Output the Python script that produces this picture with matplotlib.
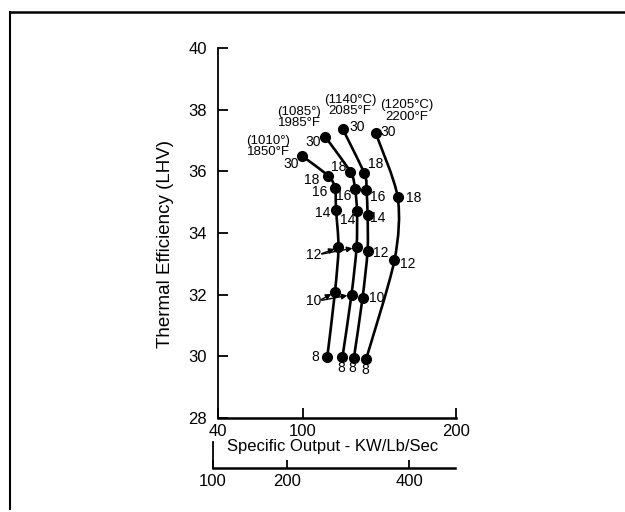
import numpy as np
import matplotlib
matplotlib.use('Agg')
import matplotlib.pyplot as plt
from matplotlib.path import Path
from matplotlib.patches import PathPatch
from matplotlib.lines import Line2D

plt.rcParams['font.family'] = ['Liberation Sans', 'DejaVu Sans']

# specific output (KW/Lb/Sec) and thermal efficiency, one list per firing temperature
pr_1850 = [30, 18, 16, 14, 12, 10, 8]
x_1850 = [99.1, 116.3, 120.9, 121.6, 123.2, 120.9, 115.9]
y_1850 = [36.51, 35.86, 35.46, 34.75, 33.53, 32.09, 29.99]

pr_1985 = [30, 18, 16, 14, 12, 10, 8]
x_1985 = [114.7, 131.0, 134.0, 135.3, 135.0, 131.7, 125.8]
y_1985 = [37.11, 35.98, 35.44, 34.71, 33.53, 32.00, 29.98]

pr_2085 = [30, 18, 16, 14, 12, 10, 8]
x_2085 = [126.1, 140.1, 141.5, 142.2, 142.2, 138.9, 133.3]
y_2085 = [37.36, 35.93, 35.39, 34.60, 33.42, 31.89, 29.96]

pr_2200 = [30, 18, 12, 8]
x_2200 = [147.5, 161.9, 159.8, 141.2]
y_2200 = [37.24, 35.16, 33.12, 29.90]

y_ticks = [28, 30, 32, 34, 36, 38, 40]
x_ticks = [40, 100, 200]
kg_ticks = [100, 200, 400]


# the scanned axis is not evenly spaced, so map it piece by piece
def fwd_main(x):
    x = np.asarray(x, dtype=float)
    return np.where(x < 100, (x - 40) * 85 / 60, 85 + (x - 100) * 153 / 100)


def inv_main(p):
    p = np.asarray(p, dtype=float)
    return np.where(p < 85, 40 + p * 60 / 85, 100 + (p - 85) * 100 / 153)


def fwd_kg(x):
    x = np.asarray(x, dtype=float)
    return np.where(x < 200, (x - 100) * 74 / 100, 74 + (x - 200) * 122 / 200)


def inv_kg(p):
    p = np.asarray(p, dtype=float)
    return np.where(p < 74, 100 + p * 100 / 74, 200 + (p - 74) * 200 / 122)


def smooth_path(xs, ys, k=0.14):
    # catmull-rom through the points, written as cubic bezier segments
    pts = np.column_stack([xs, ys])
    n = len(pts)
    verts = [pts[0]]
    codes = [Path.MOVETO]
    for i in range(n - 1):
        p0 = pts[i - 1] if i > 0 else pts[i]
        p1 = pts[i]
        p2 = pts[i + 1]
        p3 = pts[i + 2] if i + 2 < n else pts[i + 1]
        verts += [p1 + (p2 - p0) * k, p2 - (p3 - p1) * k, p2]
        codes += [Path.CURVE4] * 3
    return Path(verts, codes)


fig = plt.figure(figsize=(6.25, 5.12), dpi=100)
ax = fig.add_axes([218 / 625, 1 - 418 / 512, 238 / 625, 370 / 512])
ax.set_xscale('function', functions=(fwd_main, inv_main))
ax.set_xlim(40, 200)
ax.set_ylim(28, 40)

curves = [(x_1850, y_1850), (x_1985, y_1985), (x_2085, y_2085), (x_2200, y_2200)]
for xs, ys in curves:
    ax.add_patch(PathPatch(smooth_path(xs, ys), facecolor='none', edgecolor='black', lw=1.9))
    ax.plot(xs, ys, 'o', color='black', markersize=7)

# pressure ratio labels (text offsets in points)
fs = 10
def lab(x, y, s, dx, dy):
    ax.annotate(s, (x, y), xytext=(dx, dy), textcoords='offset points',
                ha='center', va='center', fontsize=fs)

off_1850 = {30: (-7.5, -6), 18: (-12, -3), 16: (-11, -3), 14: (-9.5, -2), 8: (-8.5, 0)}
off_1985 = {30: (-9, -3.6), 18: (-8.5, 3.6), 16: (-8, -5.4), 14: (-6.5, -6.5), 8: (-1, -8)}
off_2085 = {30: (10, 2), 18: (8, 7), 16: (8, -5), 14: (7.5, -2.5), 12: (9.5, -1.5), 10: (10, 0), 8: (-1, -7.5)}
off_2200 = {30: (9, 1), 18: (11.5, -0.5), 12: (9.5, -3), 8: (-0.5, -7.5)}
for xs, ys, prs, offs in [(x_1850, y_1850, pr_1850, off_1850),
                          (x_1985, y_1985, pr_1985, off_1985),
                          (x_2085, y_2085, pr_2085, off_2085),
                          (x_2200, y_2200, pr_2200, off_2200)]:
    for x, y, p in zip(xs, ys, prs):
        if p in offs:
            lab(x, y, str(p), *offs[p])

# shared labels with arrows for ratios 12 and 10
for p, ty in [(12, 33.3), (10, 31.8)]:
    i = pr_1850.index(p)
    tx = 107
    ax.text(tx, ty, str(p), ha='center', va='center', fontsize=fs)
    for xs, ys in [(x_1850, y_1850), (x_1985, y_1985)]:
        ax.annotate('', xy=(xs[i], ys[i]), xytext=(tx + 3.5, ty),
                    arrowprops=dict(arrowstyle='-|>', color='black', lw=1.0,
                                    mutation_scale=8, shrinkA=2, shrinkB=3))

# firing temperature labels
tfs = 9.5
ax.text(75.5, 36.42, '(1010°)\n1850°F', ha='center', va='bottom', fontsize=tfs, linespacing=0.95)
ax.text(97.5, 37.36, '(1085°)\n1985°F', ha='center', va='bottom', fontsize=tfs, linespacing=0.95)
ax.text(130.7, 37.76, '(1140°C)\n2085°F', ha='center', va='bottom', fontsize=tfs, linespacing=0.95)
ax.text(168, 37.57, '(1205°C)\n2200°F', ha='center', va='bottom', fontsize=tfs, linespacing=0.95)

for side in ['top', 'right']:
    ax.spines[side].set_visible(False)
ax.spines['left'].set_linewidth(1.3)
ax.spines['bottom'].set_linewidth(1.8)
ax.set_yticks(y_ticks)
ax.set_xticks(x_ticks)
ax.tick_params(direction='in', length=7, width=1.3, labelsize=12)
ax.tick_params(axis='y', pad=8)
ax.tick_params(axis='x', pad=4)
ax.set_ylabel('Thermal Efficiency (LHV)', fontsize=13.5)
ax.yaxis.set_label_coords(-0.185, 0.47)
ax.set_xlabel('Specific Output - KW/Lb/Sec', fontsize=12)
ax.xaxis.set_label_coords(0.483, -0.058)

# second scale underneath in KW/kg/s
ax2 = fig.add_axes([213 / 625, 1 - 468 / 512, 242 / 625, 26 / 512])
ax2.set_xscale('function', functions=(fwd_kg, inv_kg))
ax2.set_xlim(100, 475)
ax2.set_ylim(0, 1)
ax2.patch.set_visible(False)
for side in ['top', 'right']:
    ax2.spines[side].set_visible(False)
ax2.spines['left'].set_linewidth(1.3)
ax2.spines['bottom'].set_linewidth(1.8)
ax2.set_yticks([])
ax2.set_xticks(kg_ticks)
ax2.tick_params(direction='in', length=6, width=1.3, labelsize=12, pad=4)

# page frame from the scan
fig.add_artist(Line2D([10 / 625, 1], [1 - 12 / 512] * 2, color='black', lw=1.8))
fig.add_artist(Line2D([10 / 625] * 2, [1 - 12 / 512, 0.005], color='black', lw=1.5))

fig.savefig('out.png', dpi=100)
